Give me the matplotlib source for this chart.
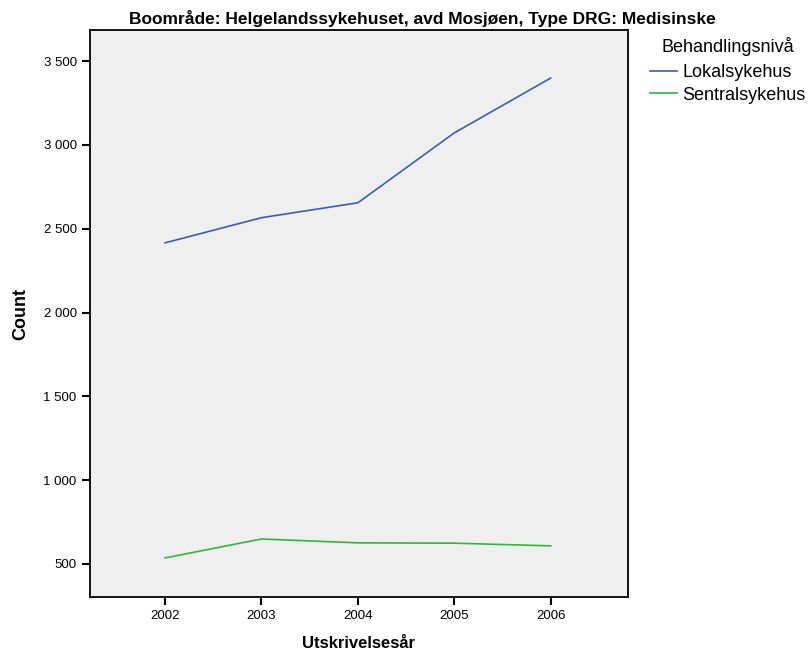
import numpy as np
import matplotlib.pyplot as plt
from matplotlib.ticker import FuncFormatter

years = [2002, 2003, 2004, 2005, 2006]
lokal = [2416, 2566, 2655, 3072, 3399]
sentral = [536, 649, 626, 624, 608]

plt.rcParams['font.family'] = ['Liberation Sans', 'DejaVu Sans']

fig = plt.figure(figsize=(8.1, 6.53), dpi=100)
ax = fig.add_axes([0.111, 0.0858, 0.664, 0.868])
ax.set_facecolor('#efefef')

ax.plot(years, lokal, color='#3e5bbb', lw=1.2, label='Lokalsykehus')
ax.plot(years, sentral, color='#2db83d', lw=1.2, label='Sentralsykehus')

ax.set_xlim(2001.22, 2006.8)
ax.set_ylim(303, 3685)
ax.set_xticks(years)
ax.set_yticks(range(500, 3501, 500))
ax.yaxis.set_major_formatter(FuncFormatter(lambda v, p: '{:,}'.format(int(v)).replace(',', ' ')))
ax.tick_params(direction='out', length=6, width=1.5, labelsize=9.5, colors='black')
for s in ax.spines.values():
    s.set_linewidth(1.3)

ax.set_xlabel('Utskrivelsesår', fontsize=12, fontweight='bold', labelpad=10)
ax.set_ylabel('Count', fontsize=13, fontweight='bold', labelpad=10)
fig.text(0.522, 0.984, 'Boområde: Helgelandssykehuset, avd Mosjøen, Type DRG: Medisinske',
         fontsize=12.5, fontweight='bold', ha='center', va='top')

# legend outside to the right, no frame
leg = fig.legend(title='Behandlingsnivå', loc='upper left', bbox_to_anchor=(0.802, 0.944),
                 frameon=False, fontsize=13, title_fontsize=13, handlelength=1.5,
                 handletextpad=0.3, labelspacing=0.32, borderpad=0, borderaxespad=0)
leg._legend_box.sep = 6

fig.savefig('out.png', dpi=100)
